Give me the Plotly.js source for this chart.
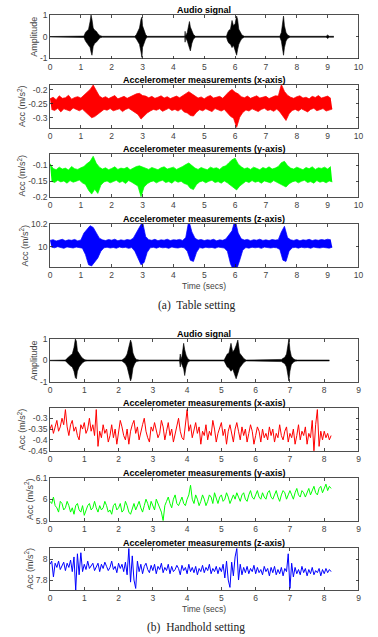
<!DOCTYPE html>
<html><head><meta charset="utf-8">
<script src="https://cdn.plot.ly/plotly-3.0.1.min.js"></script>
<style>html,body{margin:0;padding:0;background:#fff}#chart{width:378px;height:637px}</style>
</head><body><div id="chart"></div>
<script>
// ---------- (a) Table setting ----------
const audioA_t  = [0,0.7,1.1,1.15,1.2,1.25,1.3,1.33,1.36,1.4,1.45,1.5,1.55,1.62,1.7,
  2.75,2.8,2.85,2.9,2.95,2.98,3.0,3.05,3.1,3.15,
  4.37,4.38,4.39,4.4,4.45,4.5,4.52,4.55,4.6,4.65,4.72,
  5.72,5.76,5.8,5.85,5.9,5.95,6.0,6.05,6.08,6.12,6.17,6.22,6.3,
  7.45,7.5,7.54,7.57,7.6,7.65,7.7,7.78,
  8.95,9.0,9.05,9.2];
const audioA_hi = [0.01,0.02,0.03,0.2,0.3,0.35,0.7,1.0,0.8,0.4,0.3,0.25,0.15,0.05,0.02,
  0.02,0.1,0.25,0.4,0.8,0.9,0.5,0.25,0.1,0.02,
  0.02,0.25,0.02,0.05,0.2,0.6,0.7,0.45,0.25,0.1,0.02,
  0.02,0.2,0.3,0.35,0.75,0.5,0.6,0.95,0.8,0.35,0.2,0.08,0.02,
  0.02,0.2,0.6,0.95,0.5,0.2,0.08,0.02,
  0.02,0.08,0.02,0.02];
const audioA_lo = [-0.01,-0.02,-0.03,-0.2,-0.3,-0.35,-0.5,-0.7,-0.85,-0.45,-0.3,-0.25,-0.15,-0.05,-0.02,
  -0.02,-0.1,-0.25,-0.35,-0.7,-0.95,-0.5,-0.25,-0.1,-0.02,
  -0.02,-0.25,-0.02,-0.05,-0.2,-0.45,-0.55,-0.65,-0.3,-0.1,-0.02,
  -0.02,-0.2,-0.3,-0.35,-0.5,-0.4,-0.6,-0.85,-0.6,-0.35,-0.2,-0.08,-0.02,
  -0.02,-0.2,-0.5,-0.85,-0.5,-0.2,-0.08,-0.02,
  -0.02,-0.08,-0.02,-0.02];

// accelerometer (a): per-0.1 s window upper / lower excursions of the dense signal
const accA_dt = 0.1;
const accXA_hi = [-0.232,-0.226,-0.235,-0.221,-0.230,-0.228,-0.219,-0.233,-0.227,-0.224,
-0.229,-0.218,-0.208,-0.198,-0.182,-0.205,-0.222,-0.229,-0.224,-0.231,
-0.226,-0.220,-0.232,-0.227,-0.223,-0.230,-0.225,-0.219,-0.214,-0.212,
-0.220,-0.222,-0.228,-0.223,-0.230,-0.226,-0.221,-0.229,-0.224,-0.231,
-0.225,-0.222,-0.228,-0.220,-0.212,-0.206,-0.214,-0.223,-0.229,-0.225,
-0.232,-0.224,-0.220,-0.229,-0.226,-0.223,-0.230,-0.218,-0.206,-0.198,
-0.208,-0.214,-0.224,-0.228,-0.222,-0.230,-0.225,-0.221,-0.229,-0.226,
-0.223,-0.231,-0.225,-0.221,-0.222,-0.180,-0.205,-0.219,-0.226,-0.230,
-0.224,-0.221,-0.229,-0.226,-0.232,-0.223,-0.227,-0.220,-0.229,-0.225,
-0.222,-0.230];
const accXA_lo = [-0.270,-0.274,-0.266,-0.279,-0.268,-0.272,-0.276,-0.265,-0.271,-0.275,
-0.269,-0.280,-0.290,-0.300,-0.296,-0.288,-0.277,-0.270,-0.273,-0.267,
-0.275,-0.271,-0.268,-0.278,-0.270,-0.266,-0.274,-0.279,-0.288,-0.305,
-0.292,-0.283,-0.276,-0.270,-0.273,-0.268,-0.277,-0.271,-0.266,-0.274,
-0.270,-0.276,-0.268,-0.279,-0.283,-0.292,-0.294,-0.280,-0.271,-0.275,
-0.268,-0.273,-0.278,-0.267,-0.272,-0.276,-0.270,-0.282,-0.295,-0.302,
-0.335,-0.298,-0.281,-0.272,-0.276,-0.268,-0.273,-0.278,-0.270,-0.266,
-0.274,-0.271,-0.277,-0.269,-0.279,-0.296,-0.310,-0.286,-0.274,-0.270,
-0.276,-0.268,-0.273,-0.279,-0.270,-0.266,-0.275,-0.271,-0.267,-0.276,
-0.272,-0.269];
const accYA_hi = [-0.095,-0.110,-0.114,-0.106,-0.112,-0.109,-0.115,-0.104,-0.111,-0.113,
-0.108,-0.104,-0.095,-0.088,-0.072,-0.094,-0.106,-0.112,-0.108,-0.114,
-0.110,-0.105,-0.113,-0.109,-0.111,-0.106,-0.114,-0.108,-0.104,-0.102,
-0.106,-0.109,-0.113,-0.107,-0.111,-0.114,-0.108,-0.105,-0.112,-0.110,
-0.106,-0.113,-0.109,-0.104,-0.098,-0.093,-0.101,-0.109,-0.113,-0.107,
-0.111,-0.114,-0.106,-0.110,-0.108,-0.113,-0.105,-0.102,-0.092,-0.083,
-0.078,-0.096,-0.105,-0.111,-0.108,-0.113,-0.106,-0.110,-0.114,-0.107,
-0.111,-0.105,-0.112,-0.109,-0.104,-0.092,-0.088,-0.101,-0.109,-0.112,
-0.106,-0.110,-0.114,-0.107,-0.111,-0.105,-0.113,-0.108,-0.110,-0.106,
-0.112,-0.104];
const accYA_lo = [-0.150,-0.154,-0.147,-0.152,-0.149,-0.156,-0.148,-0.153,-0.150,-0.146,
-0.155,-0.160,-0.178,-0.190,-0.175,-0.188,-0.162,-0.152,-0.149,-0.155,
-0.151,-0.147,-0.154,-0.150,-0.157,-0.148,-0.153,-0.158,-0.165,-0.198,
-0.168,-0.158,-0.152,-0.149,-0.155,-0.150,-0.147,-0.154,-0.151,-0.156,
-0.148,-0.153,-0.150,-0.157,-0.160,-0.172,-0.176,-0.160,-0.152,-0.149,
-0.155,-0.150,-0.147,-0.154,-0.151,-0.156,-0.149,-0.155,-0.163,-0.170,
-0.177,-0.165,-0.156,-0.150,-0.154,-0.148,-0.153,-0.150,-0.156,-0.149,
-0.152,-0.155,-0.148,-0.153,-0.157,-0.163,-0.168,-0.158,-0.152,-0.149,
-0.155,-0.150,-0.147,-0.154,-0.151,-0.156,-0.148,-0.153,-0.150,-0.155,
-0.149,-0.152];
const accZA_hi = [10.055,10.062,10.050,10.058,10.065,10.052,10.060,10.056,10.064,10.051,
10.059,10.120,10.150,10.185,10.170,10.120,10.075,10.060,10.054,10.063,
10.057,10.066,10.052,10.060,10.055,10.063,10.058,10.075,10.130,10.180,
10.220,10.090,10.062,10.056,10.065,10.053,10.060,10.057,10.066,10.054,
10.061,10.058,10.064,10.055,10.080,10.230,10.130,10.075,10.058,10.063,
10.054,10.061,10.057,10.065,10.052,10.060,10.056,10.068,10.110,10.140,
10.240,10.120,10.070,10.058,10.064,10.053,10.061,10.057,10.066,10.055,
10.060,10.054,10.063,10.058,10.062,10.130,10.180,10.080,10.060,10.055,
10.064,10.052,10.060,10.057,10.065,10.054,10.061,10.056,10.063,10.058,
10.066,10.060];
const accZA_lo = [9.995,9.990,10.000,9.992,9.985,9.998,9.993,9.988,9.996,9.991,
9.987,9.930,9.840,9.830,9.870,9.900,9.960,9.990,9.995,9.988,
9.993,9.986,9.997,9.991,9.994,9.985,9.992,9.960,9.900,9.840,
9.860,9.950,9.990,9.994,9.987,9.996,9.990,9.993,9.985,9.997,
9.991,9.988,9.995,9.990,9.960,9.880,9.870,9.950,9.992,9.987,
9.995,9.990,9.993,9.986,9.996,9.991,9.988,9.960,9.850,9.790,
9.800,9.880,9.970,9.992,9.987,9.995,9.990,9.994,9.985,9.996,
9.991,9.988,9.993,9.990,9.975,9.880,9.870,9.960,9.990,9.994,
9.987,9.995,9.990,9.993,9.986,9.996,9.991,9.988,9.994,9.990,
9.987,9.995];

// ---------- (b) Handhold setting ----------
const audioB_t  = [0,0.45,0.5,0.55,0.6,0.65,0.7,0.74,0.77,0.8,0.85,0.9,0.95,1.02,1.08,
  2.1,2.15,2.2,2.25,2.3,2.35,2.38,2.42,2.47,2.52,2.6,
  3.78,3.8,3.82,3.85,3.9,3.93,3.97,4.02,4.08,
  5.08,5.12,5.17,5.22,5.28,5.33,5.38,5.43,5.48,5.53,5.6,5.66,5.72,
  6.7,6.75,6.8,6.85,6.9,6.94,6.97,7.0,7.04,7.1,7.16,7.22,
  7.76,7.8,7.84,8.15];
const audioB_hi = [0.01,0.02,0.1,0.2,0.25,0.3,0.6,1.0,0.9,0.45,0.3,0.2,0.1,0.03,0.02,
  0.02,0.08,0.15,0.3,0.6,0.95,0.8,0.35,0.15,0.05,0.02,
  0.02,0.3,0.05,0.2,0.8,0.5,0.25,0.08,0.02,
  0.02,0.15,0.3,0.35,0.8,0.4,0.5,0.7,0.95,0.35,0.2,0.08,0.02,
  0.02,0.05,0.1,0.15,0.3,0.7,1.0,0.5,0.2,0.08,0.03,0.02,
  0.02,0.05,0.02,0.02];
const audioB_lo = [-0.01,-0.02,-0.1,-0.2,-0.25,-0.3,-0.5,-0.8,-0.85,-0.5,-0.3,-0.2,-0.1,-0.03,-0.02,
  -0.02,-0.08,-0.15,-0.3,-0.6,-0.95,-0.8,-0.35,-0.15,-0.05,-0.02,
  -0.02,-0.3,-0.05,-0.2,-0.4,-0.7,-0.3,-0.08,-0.02,
  -0.02,-0.15,-0.3,-0.35,-0.5,-0.4,-0.6,-0.85,-0.6,-0.35,-0.2,-0.08,-0.02,
  -0.02,-0.05,-0.1,-0.15,-0.3,-0.7,-0.95,-0.5,-0.2,-0.08,-0.03,-0.02,
  -0.02,-0.05,-0.02,-0.02];

const accB_dt = 0.05;
const accXB = [-0.35,-0.33,-0.37,-0.34,-0.31,-0.36,-0.34,-0.30,-0.33,-0.26,
-0.34,-0.38,-0.33,-0.31,-0.36,-0.34,-0.38,-0.40,-0.33,-0.35,
-0.32,-0.37,-0.35,-0.30,-0.36,-0.33,-0.38,-0.26,-0.43,-0.36,
-0.39,-0.33,-0.37,-0.35,-0.41,-0.38,-0.33,-0.39,-0.35,-0.42,
-0.36,-0.31,-0.34,-0.38,-0.40,-0.35,-0.42,-0.36,-0.33,-0.31,
-0.37,-0.34,-0.40,-0.36,-0.33,-0.30,-0.36,-0.39,-0.41,-0.34,
-0.36,-0.32,-0.35,-0.39,-0.37,-0.31,-0.34,-0.40,-0.36,-0.32,
-0.38,-0.35,-0.41,-0.37,-0.33,-0.30,-0.36,-0.39,-0.40,-0.33,
-0.26,-0.36,-0.33,-0.39,-0.35,-0.32,-0.37,-0.34,-0.42,-0.36,
-0.38,-0.33,-0.40,-0.36,-0.38,-0.31,-0.35,-0.41,-0.37,-0.34,
-0.32,-0.38,-0.35,-0.42,-0.36,-0.33,-0.37,-0.41,-0.35,-0.32,
-0.36,-0.40,-0.34,-0.38,-0.35,-0.41,-0.37,-0.33,-0.36,-0.42,
-0.38,-0.34,-0.36,-0.41,-0.35,-0.39,-0.37,-0.40,-0.34,-0.38,
-0.35,-0.41,-0.37,-0.39,-0.33,-0.38,-0.40,-0.36,-0.34,-0.41,
-0.37,-0.39,-0.35,-0.42,-0.38,-0.33,-0.40,-0.36,-0.38,-0.34,
-0.42,-0.37,-0.39,-0.31,-0.455,-0.33,-0.26,-0.43,-0.36,-0.40,
-0.36,-0.39,-0.37,-0.40,-0.38];
const accYB = [5.99,5.98,6.01,5.97,5.96,5.94,5.99,5.98,5.95,5.96,
5.99,5.97,5.94,5.96,5.93,5.97,5.98,5.95,5.94,5.97,
5.925,5.95,5.97,5.98,5.95,5.96,5.99,5.96,5.94,5.97,
5.95,5.96,5.99,5.97,5.94,5.95,5.93,5.97,5.98,5.95,
5.96,5.98,5.94,5.95,5.99,5.97,5.94,5.93,5.96,5.98,
5.95,5.97,5.99,5.96,5.94,5.97,6.00,5.98,5.95,5.99,
5.97,5.95,6.00,5.98,5.96,5.94,5.90,5.97,5.99,6.01,
5.98,5.96,6.00,6.02,5.98,5.97,5.99,6.01,5.98,5.97,
6.00,6.02,6.065,6.00,5.98,6.02,6.00,5.97,5.99,6.02,
6.00,5.97,5.99,6.02,6.01,5.98,6.03,6.00,5.98,6.01,
6.02,5.99,6.00,6.03,6.01,5.98,6.00,6.02,6.00,6.03,
6.01,5.99,6.02,6.03,6.00,5.99,6.02,6.04,6.01,6.00,
6.02,6.04,6.01,6.00,6.03,6.01,6.00,6.03,6.04,6.01,
6.00,6.02,6.04,6.01,5.99,6.02,6.04,6.03,6.00,6.02,
6.04,6.02,6.00,6.03,6.05,6.02,6.01,6.04,6.03,6.01,
6.03,6.05,6.02,6.04,6.06,6.03,6.02,6.05,6.06,6.03,
6.05,6.07,6.04,6.06,6.05];
const accZB = [7.95,7.98,7.83,7.96,7.92,7.98,7.90,7.94,7.97,7.89,
7.96,7.92,7.99,7.88,8.02,7.70,8.05,7.85,8.06,7.88,
7.95,7.90,7.98,7.91,7.94,7.96,7.89,7.92,7.96,7.88,
7.95,7.91,7.97,7.93,7.89,7.92,7.98,7.90,7.93,7.87,
7.96,7.91,7.95,7.88,7.97,7.85,8.10,7.78,8.03,7.80,
7.72,7.98,7.88,7.95,7.86,7.93,7.96,7.90,7.87,7.94,
7.89,7.95,7.86,7.93,7.90,7.96,7.87,7.92,7.89,7.95,
7.86,7.93,7.88,7.90,7.94,7.91,7.85,7.94,7.89,7.92,
7.86,7.95,7.88,7.92,7.87,7.93,7.85,7.91,7.88,7.94,
7.87,7.92,7.89,7.95,7.86,7.91,7.88,7.93,7.86,7.92,
7.88,7.95,7.82,7.98,7.80,7.73,7.97,7.84,8.02,8.10,
7.80,7.95,7.85,7.92,7.87,7.93,7.86,7.91,7.88,7.94,
7.86,7.92,7.87,7.90,7.85,7.93,7.88,7.91,7.84,7.92,
7.87,7.93,7.85,7.90,7.86,7.92,7.84,7.91,7.88,8.05,
7.72,7.96,7.83,7.92,7.86,7.90,7.85,7.93,7.87,7.91,
7.84,7.90,7.86,7.92,7.85,7.89,7.87,7.91,7.84,7.90,
7.86,7.91,7.87,7.90,7.88];

// tick labels
const xTicksA = [0,1,2,3,4,5,6,7,8,9,10];
const xTicksB = [0,1,2,3,4,5,6,7,8,9];
const yTicks = {
  audio: [-1,0,1],
  xA: [-0.3,-0.25,-0.2], yA: [-0.2,-0.15,-0.1], zA: [10,10.2],
  xB: [-0.45,-0.4,-0.35,-0.3], yB: [5.9,6,6.1], zB: [7.8,8]
};
const titles = ['Audio signal','Accelerometer measurements (x-axis)','Accelerometer measurements (y-axis)','Accelerometer measurements (z-axis)'];

// ---------- build ----------
const W = 378, H = 637;
const X0 = 50/W, X1 = 358.5/W;
const boxes = [[15,58.5],[85,127.7],[154.3,197.3],[224,267.3],
               [339,382],[408.3,450.7],[477.7,520.7],[547.7,590]];
const yRanges = [[-1,1],[-0.336,-0.182],[-0.2,-0.066],[9.818,10.2],
                 [-1,1],[-0.45,-0.254],[5.9,6.1],[7.705,8.108]];
const yTickList = [yTicks.audio,yTicks.xA,yTicks.yA,yTicks.zA,yTicks.audio,yTicks.xB,yTicks.yB,yTicks.zB];

const traces = [];
function axn(k){ return k===1?'':String(k); }
function band(tHi, hi, tLo, lo, color, k, w){
  const ax = axn(k);
  traces.push({x:tLo, y:lo, type:'scatter', mode:'lines', line:{color, width:w}, xaxis:'x'+ax, yaxis:'y'+ax, hoverinfo:'skip'});
  traces.push({x:tHi, y:hi, type:'scatter', mode:'lines', fill:'tonexty', fillcolor:color, line:{color, width:w}, xaxis:'x'+ax, yaxis:'y'+ax, hoverinfo:'skip'});
}
function line(x, y, color, k, w){
  const ax = axn(k);
  traces.push({x, y, type:'scatter', mode:'lines', line:{color, width:w}, xaxis:'x'+ax, yaxis:'y'+ax, hoverinfo:'skip'});
}
const tHiA = accXA_hi.map((_,i)=>i*accA_dt);
const tLoA = accXA_lo.map((_,i)=>i*accA_dt+accA_dt/2);
band(audioA_t, audioA_hi, audioA_t, audioA_lo, '#000000', 1, 0.6);
band(tHiA, accXA_hi, tLoA, accXA_lo, '#ff0000', 2, 0.7);
band(tHiA, accYA_hi, tLoA, accYA_lo, '#00ff00', 3, 0.7);
band(tHiA, accZA_hi, tLoA, accZA_lo, '#0000ff', 4, 0.7);
band(audioB_t, audioB_hi, audioB_t, audioB_lo, '#000000', 5, 0.6);
const tB = accXB.map((_,i)=>i*accB_dt);
line(tB, accXB, '#ff0000', 6, 1);
line(tB, accYB, '#00ff00', 7, 1);
line(tB, accZB, '#0000ff', 8, 1);

const fam = 'Liberation Sans, Arial, sans-serif';
const tickFont = {family:fam, size:8.5, color:'#444'};
const layout = {
  width:W, height:H, margin:{l:0,r:0,t:0,b:0}, paper_bgcolor:'#fff', plot_bgcolor:'#fff',
  showlegend:false, annotations:[]
};
const axBase = {ticks:'inside', ticklen:3, tickwidth:0.8, tickcolor:'#222', showline:true, mirror:'allticks',
  linecolor:'#222', linewidth:0.8, showgrid:false, zeroline:false, tickfont:tickFont, fixedrange:true};
for(let k=1;k<=8;k++){
  const ax = axn(k);
  const [top,bot] = boxes[k-1];
  const xt = k<=4 ? xTicksA : xTicksB;
  layout['xaxis'+ax] = Object.assign({}, axBase, {domain:[X0,X1], anchor:'y'+ax,
    range:[0, xt[xt.length-1]], tickvals:xt, ticktext:xt.map(String)});
  const yt = yTickList[k-1];
  layout['yaxis'+ax] = Object.assign({}, axBase, {domain:[1-bot/H, 1-top/H], anchor:'x'+ax,
    range:yRanges[k-1], tickvals:yt, ticktext:yt.map(String),
    title:{text:(k%4===1)?'Amplitude':'Acc (m/s<sup>2</sup>)', font:{family:fam, size:9, color:'#444'}, standoff:0}});
  layout.annotations.push({text:'<b>'+titles[(k-1)%4]+'</b>', xref:'paper', yref:'paper',
    x:(X0+X1)/2, y:1-top/H, xanchor:'center', yanchor:'bottom', showarrow:false, yshift:-2,
    font:{family:fam, size:9, color:'#000'}});
}
const lblFont = {family:fam, size:8.5, color:'#444'};
layout.annotations.push({text:'Time (secs)', xref:'paper', yref:'paper', x:(X0+X1)/2, y:1-286/H, yanchor:'middle', showarrow:false, font:lblFont});
layout.annotations.push({text:'Time (secs)', xref:'paper', yref:'paper', x:(X0+X1)/2, y:1-608.5/H, yanchor:'middle', showarrow:false, font:lblFont});
const capFont = {family:'Liberation Serif, Times New Roman, serif', size:11.5, color:'#222'};
layout.annotations.push({text:'(a)  Table setting', xref:'paper', yref:'paper', x:196/W, y:1-305/H, yanchor:'middle', showarrow:false, font:capFont});
layout.annotations.push({text:'(b)  Handhold setting', xref:'paper', yref:'paper', x:196/W, y:1-627/H, yanchor:'middle', showarrow:false, font:capFont});

Plotly.newPlot('chart', traces, layout, {staticPlot:true, displayModeBar:false});
</script></body></html>
